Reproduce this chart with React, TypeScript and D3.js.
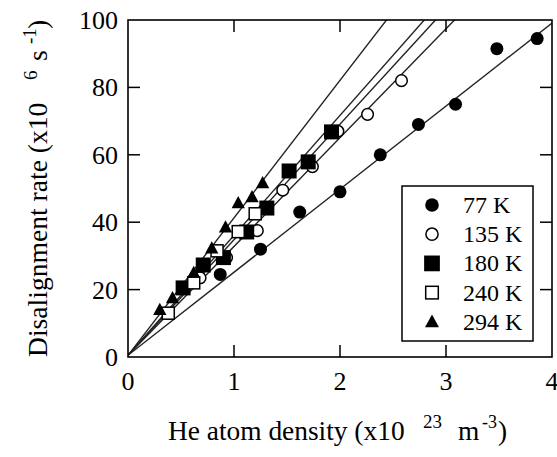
import React from "react";
import * as d3 from "d3";

// ---- data ----
const xTicks = [0, 1, 2, 3, 4];
const yTicks = [0, 20, 40, 60, 80, 100];
const legendLabels = ["77 K", "135 K", "180 K", "240 K", "294 K"];

const dens77 = [0.87, 1.25, 1.62, 2.0, 2.38, 2.74, 3.09, 3.48, 3.86];
const rate77 = [24.5, 32, 43, 49, 60, 69, 75, 91.5, 94.5];

const dens135 = [0.38, 0.68, 0.93, 1.22, 1.46, 1.74, 1.98, 2.26, 2.58];
const rate135 = [13, 23.5, 29.5, 37.5, 49.5, 56.5, 67, 72, 82];

const dens180 = [0.52, 0.71, 0.9, 1.12, 1.31, 1.52, 1.7, 1.92];
const rate180 = [20.5, 27.3, 29.5, 37.1, 44.2, 55.2, 57.9, 66.8];

const dens240 = [0.38, 0.62, 0.84, 1.04, 1.2];
const rate240 = [13, 22, 31.5, 37.2, 42.5];

const dens294 = [0.3, 0.42, 0.62, 0.79, 0.92, 1.04, 1.17, 1.27];
const rate294 = [14, 17.5, 25, 32.3, 38.5, 45.7, 47.5, 51.6];

// fitted line slopes (rate per density unit) and common intercept
const fitSlopes = [24.65, 32.3, 34.3, 35.6, 40.8];
const fitIntercept = 0.5;

const seriesX = [dens77, dens135, dens180, dens240, dens294];
const seriesY = [rate77, rate135, rate180, rate240, rate294];
const markerKinds = ["dot", "circle", "fsquare", "osquare", "triangle"];

const W = 557;
const H = 457;
const left = 128, right = 552, top = 20, bottom = 357;
const FONT = "'Liberation Serif', 'Times New Roman', Times, serif";

function Marker({ kind, cx, cy, s = 1 }: { kind: string; cx: number; cy: number; s?: number }) {
  if (kind === "dot") return <circle cx={cx} cy={cy} r={6.5 * s} fill="#000" />;
  if (kind === "circle")
    return <circle cx={cx} cy={cy} r={5.8 * s} fill="#fff" stroke="#000" strokeWidth={1.5} />;
  if (kind === "fsquare") {
    const h = 7.5 * s;
    return <rect x={cx - h} y={cy - h} width={2 * h} height={2 * h} fill="#000" />;
  }
  if (kind === "osquare") {
    const h = 6 * s;
    return <rect x={cx - h} y={cy - h} width={2 * h} height={2 * h} fill="#fff" stroke="#000" strokeWidth={1.5} />;
  }
  const a = 7 * s;
  const p = `M${cx},${cy - a} L${cx + a * 0.95},${cy + a * 0.75} L${cx - a * 0.95},${cy + a * 0.75} Z`;
  return <path d={p} fill="#000" />;
}

export default function App() {
  const x = d3.scaleLinear().domain([0, 4]).range([left, right]);
  const y = d3.scaleLinear().domain([0, 100]).range([bottom, top]);
  const tickLen = 12;
  const ts = { fontFamily: FONT };

  return (
    <svg width={W} height={H} style={{ position: "absolute", left: 0, top: 0, background: "#fff" }}>
      <defs>
        <clipPath id="plotClip">
          <rect x={left} y={top} width={right - left} height={bottom - top} />
        </clipPath>
      </defs>

      {/* fit lines */}
      <g clipPath="url(#plotClip)">
        {fitSlopes.map((m, i) => {
          const xEnd = Math.min(4.05, (100.5 - fitIntercept) / m);
          const pts = [0, xEnd];
          const d = d3
            .line<number>()
            .x((v) => x(v))
            .y((v) => y(fitIntercept + m * v))(pts);
          return <path key={i} d={d || ""} fill="none" stroke="#222" strokeWidth={1.4} />;
        })}
      </g>

      {/* markers */}
      {seriesX.map((xs, si) =>
        xs.map((xv, j) => (
          <Marker key={`${si}-${j}`} kind={markerKinds[si]} cx={x(xv)} cy={y(seriesY[si][j])} />
        ))
      )}

      {/* frame */}
      <rect x={left} y={top} width={right - left} height={bottom - top} fill="none" stroke="#000" strokeWidth={1.6} />

      {/* ticks */}
      {xTicks.slice(1, -1).map((t) => (
        <g key={`xt${t}`}>
          <line x1={x(t)} x2={x(t)} y1={bottom} y2={bottom - tickLen} stroke="#000" strokeWidth={1.5} />
          <line x1={x(t)} x2={x(t)} y1={top} y2={top + tickLen} stroke="#000" strokeWidth={1.5} />
        </g>
      ))}
      {yTicks.slice(1, -1).map((t) => (
        <g key={`yt${t}`}>
          <line x1={left} x2={left + tickLen} y1={y(t)} y2={y(t)} stroke="#000" strokeWidth={1.5} />
          <line x1={right} x2={right - tickLen} y1={y(t)} y2={y(t)} stroke="#000" strokeWidth={1.5} />
        </g>
      ))}

      {/* tick labels */}
      {xTicks.map((t) => (
        <text key={`xl${t}`} x={x(t)} y={390} textAnchor="middle" style={ts} fontSize={26} fill="#000">
          {t}
        </text>
      ))}
      {yTicks.map((t) => (
        <text key={`yl${t}`} x={118} y={y(t) + 9} textAnchor="end" style={ts} fontSize={26} fill="#000">
          {t}
        </text>
      ))}

      {/* x title */}
      <g fill="#000">
        <text x={168} y={440} fontSize={27.4} style={ts}>He atom density (x10</text>
        <text x={423} y={428} fontSize={19} style={ts}>23</text>
        <text x={458} y={440} fontSize={27.4} style={ts}>m</text>
        <text x={482} y={428} fontSize={18} style={ts}>-3</text>
        <text x={498} y={440} fontSize={27.4} style={ts}>)</text>
      </g>

      {/* y title */}
      <g fill="#000" transform="translate(47,357) rotate(-90)">
        <text x={0} y={0} fontSize={27.6} style={ts}>Disalignment rate (x10</text>
        <text x={277} y={-10} fontSize={19} style={ts}>6</text>
        <text x={296} y={0} fontSize={27.6} style={ts}>s</text>
        <text x={313} y={-11} fontSize={19} style={ts}>-1</text>
        <text x={328} y={0} fontSize={27.6} style={ts}>)</text>
      </g>

      {/* legend */}
      <rect x={402} y={186} width={131} height={155} fill="#fff" stroke="#000" strokeWidth={1.5} />
      {legendLabels.map((lab, i) => {
        const cy = 205 + i * 29.2;
        return (
          <g key={lab}>
            <Marker kind={markerKinds[i]} cx={432} cy={cy} s={1.05} />
            <text x={463} y={cy + 8} style={ts} fontSize={24} fill="#000">
              {lab}
            </text>
          </g>
        );
      })}
    </svg>
  );
}
